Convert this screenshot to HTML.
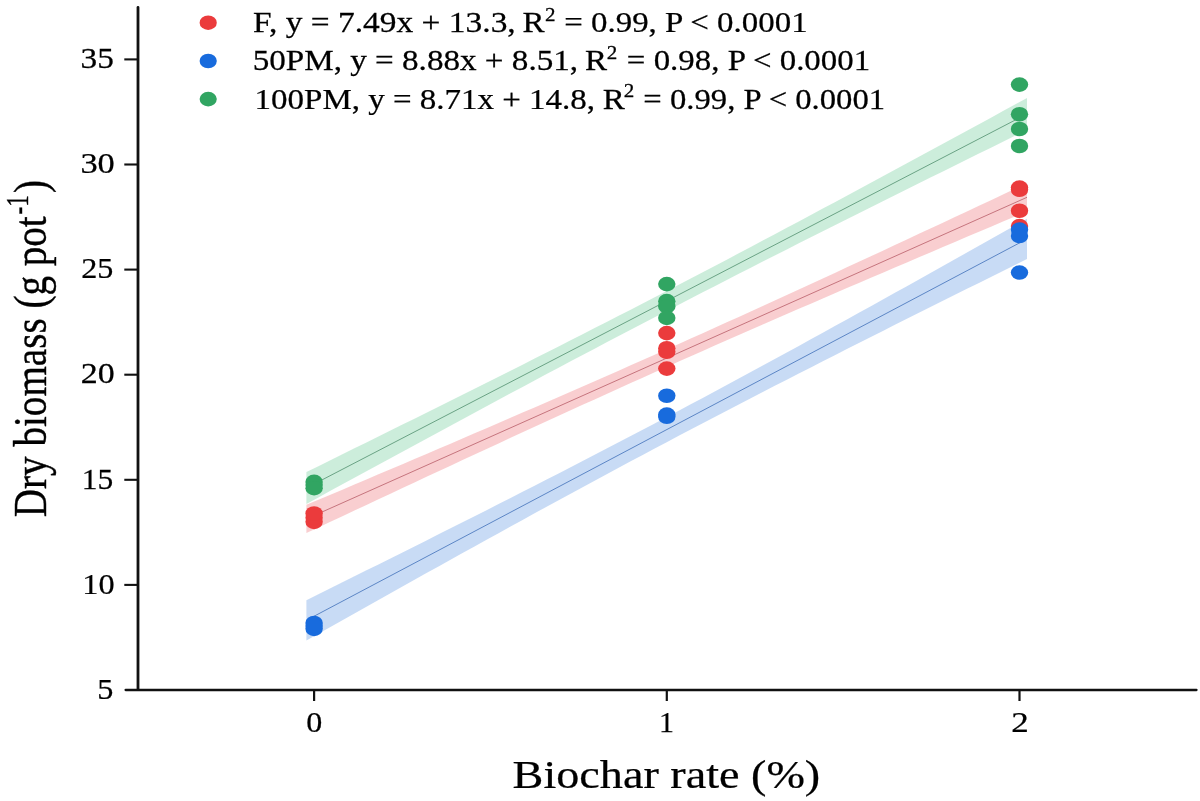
<!DOCTYPE html>
<html><head><meta charset="utf-8"><style>
html,body{margin:0;padding:0;background:#fff;width:1200px;height:801px;overflow:hidden}
svg{display:block;filter:blur(0.35px)}
</style></head><body>
<svg width="1200" height="801" viewBox="0 0 1200 801">
<rect width="1200" height="801" fill="#fff"/>
<path d="M306.40,472.05 L318.41,466.13 L330.42,460.22 L342.43,454.30 L354.44,448.37 L366.45,442.44 L378.46,436.50 L390.47,430.56 L402.48,424.61 L414.49,418.65 L426.50,412.69 L438.51,406.71 L450.52,400.73 L462.53,394.74 L474.54,388.75 L486.55,382.74 L498.56,376.72 L510.57,370.69 L522.58,364.65 L534.59,358.59 L546.60,352.52 L558.61,346.44 L570.62,340.35 L582.63,334.24 L594.64,328.11 L606.65,321.97 L618.66,315.81 L630.67,309.64 L642.68,303.45 L654.69,297.24 L666.70,291.01 L678.71,284.77 L690.72,278.51 L702.73,272.23 L714.74,265.94 L726.75,259.63 L738.76,253.30 L750.77,246.96 L762.78,240.60 L774.79,234.23 L786.80,227.84 L798.81,221.44 L810.82,215.02 L822.83,208.60 L834.84,202.16 L846.85,195.71 L858.86,189.25 L870.87,182.78 L882.88,176.30 L894.89,169.82 L906.90,163.32 L918.91,156.81 L930.92,150.30 L942.93,143.78 L954.94,137.26 L966.95,130.73 L978.96,124.19 L990.97,117.65 L1002.98,111.10 L1014.99,104.55 L1027.00,97.99 L1027.00,129.89 L1014.99,135.80 L1002.98,141.72 L990.97,147.64 L978.96,153.57 L966.95,159.50 L954.94,165.44 L942.93,171.38 L930.92,177.33 L918.91,183.29 L906.90,189.25 L894.89,195.22 L882.88,201.21 L870.87,207.19 L858.86,213.19 L846.85,219.20 L834.84,225.22 L822.83,231.25 L810.82,237.30 L798.81,243.35 L786.80,249.42 L774.79,255.50 L762.78,261.60 L750.77,267.71 L738.76,273.83 L726.75,279.97 L714.74,286.13 L702.73,292.31 L690.72,298.50 L678.71,304.71 L666.70,310.93 L654.69,317.17 L642.68,323.43 L630.67,329.71 L618.66,336.01 L606.65,342.32 L594.64,348.64 L582.63,354.99 L570.62,361.35 L558.61,367.72 L546.60,374.11 L534.59,380.51 L522.58,386.92 L510.57,393.35 L498.56,399.79 L486.55,406.24 L474.54,412.70 L462.53,419.17 L450.52,425.64 L438.51,432.13 L426.50,438.63 L414.49,445.13 L402.48,451.64 L390.47,458.16 L378.46,464.69 L366.45,471.22 L354.44,477.76 L342.43,484.30 L330.42,490.85 L318.41,497.40 L306.40,503.96 Z" fill="rgb(85,195,135)" fill-opacity="0.3"/>
<path d="M306.40,504.87 L318.41,499.79 L330.42,494.71 L342.43,489.63 L354.44,484.54 L366.45,479.44 L378.46,474.35 L390.47,469.24 L402.48,464.13 L414.49,459.02 L426.50,453.89 L438.51,448.76 L450.52,443.63 L462.53,438.48 L474.54,433.33 L486.55,428.17 L498.56,423.00 L510.57,417.82 L522.58,412.62 L534.59,407.42 L546.60,402.21 L558.61,396.98 L570.62,391.74 L582.63,386.49 L594.64,381.23 L606.65,375.95 L618.66,370.66 L630.67,365.35 L642.68,360.03 L654.69,354.69 L666.70,349.33 L678.71,343.97 L690.72,338.58 L702.73,333.18 L714.74,327.77 L726.75,322.34 L738.76,316.90 L750.77,311.44 L762.78,305.97 L774.79,300.49 L786.80,294.99 L798.81,289.48 L810.82,283.96 L822.83,278.43 L834.84,272.89 L846.85,267.34 L858.86,261.78 L870.87,256.21 L882.88,250.63 L894.89,245.05 L906.90,239.45 L918.91,233.85 L930.92,228.25 L942.93,222.64 L954.94,217.02 L966.95,211.39 L978.96,205.77 L990.97,200.13 L1002.98,194.49 L1014.99,188.85 L1027.00,183.21 L1027.00,211.41 L1014.99,216.48 L1002.98,221.56 L990.97,226.65 L978.96,231.74 L966.95,236.83 L954.94,241.93 L942.93,247.03 L930.92,252.14 L918.91,257.26 L906.90,262.38 L894.89,267.51 L882.88,272.65 L870.87,277.79 L858.86,282.94 L846.85,288.11 L834.84,293.28 L822.83,298.46 L810.82,303.65 L798.81,308.85 L786.80,314.07 L774.79,319.29 L762.78,324.53 L750.77,329.78 L738.76,335.05 L726.75,340.33 L714.74,345.62 L702.73,350.93 L690.72,356.25 L678.71,361.59 L666.70,366.94 L654.69,372.31 L642.68,377.70 L630.67,383.10 L618.66,388.51 L606.65,393.94 L594.64,399.38 L582.63,404.84 L570.62,410.31 L558.61,415.79 L546.60,421.29 L534.59,426.80 L522.58,432.32 L510.57,437.85 L498.56,443.39 L486.55,448.94 L474.54,454.50 L462.53,460.07 L450.52,465.65 L438.51,471.23 L426.50,476.83 L414.49,482.43 L402.48,488.03 L390.47,493.65 L378.46,499.26 L366.45,504.89 L354.44,510.52 L342.43,516.15 L330.42,521.79 L318.41,527.43 L306.40,533.08 Z" fill="rgb(235,92,98)" fill-opacity="0.3"/>
<path d="M306.40,600.18 L318.41,594.23 L330.42,588.27 L342.43,582.31 L354.44,576.35 L366.45,570.37 L378.46,564.39 L390.47,558.40 L402.48,552.40 L414.49,546.40 L426.50,540.38 L438.51,534.35 L450.52,528.32 L462.53,522.27 L474.54,516.21 L486.55,510.14 L498.56,504.06 L510.57,497.96 L522.58,491.84 L534.59,485.71 L546.60,479.57 L558.61,473.40 L570.62,467.22 L582.63,461.02 L594.64,454.81 L606.65,448.57 L618.66,442.31 L630.67,436.03 L642.68,429.73 L654.69,423.40 L666.70,417.06 L678.71,410.69 L690.72,404.30 L702.73,397.89 L714.74,391.46 L726.75,385.01 L738.76,378.54 L750.77,372.04 L762.78,365.53 L774.79,359.00 L786.80,352.45 L798.81,345.89 L810.82,339.30 L822.83,332.71 L834.84,326.09 L846.85,319.47 L858.86,312.83 L870.87,306.17 L882.88,299.51 L894.89,292.83 L906.90,286.15 L918.91,279.45 L930.92,272.74 L942.93,266.03 L954.94,259.31 L966.95,252.58 L978.96,245.84 L990.97,239.10 L1002.98,232.35 L1014.99,225.59 L1027.00,218.83 L1027.00,259.04 L1014.99,264.99 L1002.98,270.95 L990.97,276.91 L978.96,282.88 L966.95,288.85 L954.94,294.84 L942.93,300.82 L930.92,306.82 L918.91,312.83 L906.90,318.84 L894.89,324.87 L882.88,330.91 L870.87,336.95 L858.86,343.01 L846.85,349.08 L834.84,355.17 L822.83,361.27 L810.82,367.38 L798.81,373.51 L786.80,379.66 L774.79,385.82 L762.78,392.00 L750.77,398.20 L738.76,404.42 L726.75,410.66 L714.74,416.92 L702.73,423.20 L690.72,429.50 L678.71,435.83 L666.70,442.17 L654.69,448.54 L642.68,454.93 L630.67,461.34 L618.66,467.77 L606.65,474.22 L594.64,480.70 L582.63,487.19 L570.62,493.70 L558.61,500.23 L546.60,506.78 L534.59,513.35 L522.58,519.93 L510.57,526.53 L498.56,533.14 L486.55,539.77 L474.54,546.41 L462.53,553.06 L450.52,559.73 L438.51,566.40 L426.50,573.09 L414.49,579.79 L402.48,586.49 L390.47,593.21 L378.46,599.93 L366.45,606.66 L354.44,613.40 L342.43,620.14 L330.42,626.89 L318.41,633.65 L306.40,640.41 Z" fill="rgb(72,135,222)" fill-opacity="0.3"/>
<line x1="306.40" y1="488.00" x2="1027.00" y2="113.94" stroke="#5f9a7a" stroke-width="0.9"/>
<line x1="306.40" y1="518.97" x2="1027.00" y2="197.31" stroke="#c06a74" stroke-width="0.9"/>
<line x1="306.40" y1="620.29" x2="1027.00" y2="238.94" stroke="#4f7cc0" stroke-width="0.9"/>
<ellipse cx="314.10" cy="481.90" rx="8.7" ry="7.3" fill="#31A562"/>
<ellipse cx="314.10" cy="485.06" rx="8.7" ry="7.3" fill="#31A562"/>
<ellipse cx="314.10" cy="488.21" rx="8.7" ry="7.3" fill="#31A562"/>
<ellipse cx="666.80" cy="284.10" rx="8.7" ry="7.3" fill="#31A562"/>
<ellipse cx="666.80" cy="301.13" rx="8.7" ry="7.3" fill="#31A562"/>
<ellipse cx="666.80" cy="306.38" rx="8.7" ry="7.3" fill="#31A562"/>
<ellipse cx="666.80" cy="317.95" rx="8.7" ry="7.3" fill="#31A562"/>
<ellipse cx="1019.50" cy="84.62" rx="8.7" ry="7.3" fill="#31A562"/>
<ellipse cx="1019.50" cy="114.26" rx="8.7" ry="7.3" fill="#31A562"/>
<ellipse cx="1019.50" cy="128.98" rx="8.7" ry="7.3" fill="#31A562"/>
<ellipse cx="1019.50" cy="146.00" rx="8.7" ry="7.3" fill="#31A562"/>
<ellipse cx="314.10" cy="521.84" rx="8.7" ry="7.3" fill="#EB3B3C"/>
<ellipse cx="314.10" cy="517.64" rx="8.7" ry="7.3" fill="#EB3B3C"/>
<ellipse cx="314.10" cy="513.43" rx="8.7" ry="7.3" fill="#EB3B3C"/>
<ellipse cx="666.80" cy="333.08" rx="8.7" ry="7.3" fill="#EB3B3C"/>
<ellipse cx="666.80" cy="348.21" rx="8.7" ry="7.3" fill="#EB3B3C"/>
<ellipse cx="666.80" cy="351.79" rx="8.7" ry="7.3" fill="#EB3B3C"/>
<ellipse cx="666.80" cy="368.60" rx="8.7" ry="7.3" fill="#EB3B3C"/>
<ellipse cx="1019.50" cy="187.62" rx="8.7" ry="7.3" fill="#EB3B3C"/>
<ellipse cx="1019.50" cy="189.72" rx="8.7" ry="7.3" fill="#EB3B3C"/>
<ellipse cx="1019.50" cy="210.74" rx="8.7" ry="7.3" fill="#EB3B3C"/>
<ellipse cx="1019.50" cy="226.09" rx="8.7" ry="7.3" fill="#EB3B3C"/>
<ellipse cx="314.10" cy="622.95" rx="8.7" ry="7.3" fill="#186BDD"/>
<ellipse cx="314.10" cy="628.83" rx="8.7" ry="7.3" fill="#186BDD"/>
<ellipse cx="314.10" cy="625.89" rx="8.7" ry="7.3" fill="#186BDD"/>
<ellipse cx="666.80" cy="395.72" rx="8.7" ry="7.3" fill="#186BDD"/>
<ellipse cx="666.80" cy="414.64" rx="8.7" ry="7.3" fill="#186BDD"/>
<ellipse cx="666.80" cy="416.74" rx="8.7" ry="7.3" fill="#186BDD"/>
<ellipse cx="1019.50" cy="229.66" rx="8.7" ry="7.3" fill="#186BDD"/>
<ellipse cx="1019.50" cy="235.97" rx="8.7" ry="7.3" fill="#186BDD"/>
<ellipse cx="1019.50" cy="272.54" rx="8.7" ry="7.3" fill="#186BDD"/>
<line x1="138.0" y1="7.4" x2="138.0" y2="689" stroke="#111" stroke-width="2.8" stroke-linecap="round"/>
<line x1="125.6" y1="690" x2="1196.5" y2="690" stroke="#111" stroke-width="2.3" stroke-linecap="round"/>
<line x1="124.3" y1="584.90" x2="138.0" y2="584.90" stroke="#111" stroke-width="2.1"/>
<line x1="124.3" y1="479.80" x2="138.0" y2="479.80" stroke="#111" stroke-width="2.1"/>
<line x1="124.3" y1="374.70" x2="138.0" y2="374.70" stroke="#111" stroke-width="2.1"/>
<line x1="124.3" y1="269.60" x2="138.0" y2="269.60" stroke="#111" stroke-width="2.1"/>
<line x1="124.3" y1="164.50" x2="138.0" y2="164.50" stroke="#111" stroke-width="2.1"/>
<line x1="124.3" y1="59.40" x2="138.0" y2="59.40" stroke="#111" stroke-width="2.1"/>
<line x1="314.10" y1="690" x2="314.10" y2="701" stroke="#111" stroke-width="2.2"/>
<line x1="666.80" y1="690" x2="666.80" y2="701" stroke="#111" stroke-width="2.2"/>
<line x1="1019.50" y1="690" x2="1019.50" y2="701" stroke="#111" stroke-width="2.2"/>
<text transform="translate(80.48,68.00) scale(1.1111,1)" font-family="Liberation Serif" font-size="30" stroke="#000" stroke-width="0.25">35</text>
<text transform="translate(80.40,173.30) scale(1.1481,1)" font-family="Liberation Serif" font-size="30" stroke="#000" stroke-width="0.25">30</text>
<text transform="translate(81.18,278.00) scale(1.0714,1)" font-family="Liberation Serif" font-size="30" stroke="#000" stroke-width="0.25">25</text>
<text transform="translate(80.87,383.30) scale(1.1321,1)" font-family="Liberation Serif" font-size="30" stroke="#000" stroke-width="0.25">20</text>
<text transform="translate(81.86,488.60) scale(1.0481,1)" font-family="Liberation Serif" font-size="30" stroke="#000" stroke-width="0.25">15</text>
<text transform="translate(82.27,593.80) scale(1.0769,1)" font-family="Liberation Serif" font-size="30" stroke="#000" stroke-width="0.25">10</text>
<text transform="translate(97.25,698.90) scale(1.0750,1)" font-family="Liberation Serif" font-size="30" stroke="#000" stroke-width="0.25">5</text>
<text transform="translate(306.33,731.60) scale(1.0692,1)" font-family="Liberation Serif" font-size="30" stroke="#000" stroke-width="0.25">0</text>
<text transform="translate(658.90,731.60) scale(1.0000,1)" font-family="Liberation Serif" font-size="30" stroke="#000" stroke-width="0.25">1</text>
<text transform="translate(1011.23,731.60) scale(1.1667,1)" font-family="Liberation Serif" font-size="30" stroke="#000" stroke-width="0.25">2</text>
<text transform="translate(512.60,788.25) scale(1.1547,1)" font-family="Liberation Serif" font-size="40" stroke="#000" stroke-width="0.25">Biochar rate (%)</text>
<text transform="translate(46.25,517.20) rotate(-90) scale(0.978,1.165)" font-family="Liberation Serif" font-size="40" stroke="#000" stroke-width="0.35" y="0">Dry biomass (g pot</text>
<text transform="translate(46.25,214.40) rotate(-90) scale(0.86,1.165)" font-family="Liberation Serif" font-size="27" stroke="#000" stroke-width="0.35" y="-15.9">-1</text>
<text transform="translate(46.25,193.10) rotate(-90) scale(0.978,1.165)" font-family="Liberation Serif" font-size="40" stroke="#000" stroke-width="0.35" y="0">)</text>
<ellipse cx="208.2" cy="22.7" rx="8.6" ry="7.3" fill="#EB3B3C"/>
<text transform="translate(253.05,31.90) scale(1.1536,1)" font-family="Liberation Serif" font-size="29" stroke="#000" stroke-width="0.25">F, y = 7.49x + 13.3,</text>
<text transform="translate(522.61,31.90) scale(1.1400,1)" font-family="Liberation Serif" font-size="29" stroke="#000" stroke-width="0.25">R</text>
<text transform="translate(545.11,20.70) scale(1.1400,1)" font-family="Liberation Serif" font-size="18.5" stroke="#000" stroke-width="0.25">2</text>
<text transform="translate(564.27,31.90) scale(1.1349,1)" font-family="Liberation Serif" font-size="29" stroke="#000" stroke-width="0.25">= 0.99, P &lt; 0.0001</text>
<ellipse cx="208.2" cy="61.0" rx="8.6" ry="7.3" fill="#186BDD"/>
<text transform="translate(252.72,70.20) scale(1.1423,1)" font-family="Liberation Serif" font-size="29" stroke="#000" stroke-width="0.25">50PM, y = 8.88x + 8.51,</text>
<text transform="translate(585.06,70.20) scale(1.1400,1)" font-family="Liberation Serif" font-size="29" stroke="#000" stroke-width="0.25">R</text>
<text transform="translate(606.86,59.00) scale(1.1400,1)" font-family="Liberation Serif" font-size="18.5" stroke="#000" stroke-width="0.25">2</text>
<text transform="translate(626.87,70.20) scale(1.1344,1)" font-family="Liberation Serif" font-size="29" stroke="#000" stroke-width="0.25">= 0.98, P &lt; 0.0001</text>
<ellipse cx="208.2" cy="99.1" rx="8.6" ry="7.3" fill="#31A562"/>
<text transform="translate(254.59,108.60) scale(1.1378,1)" font-family="Liberation Serif" font-size="29" stroke="#000" stroke-width="0.25">100PM, y = 8.71x + 14.8,</text>
<text transform="translate(602.86,108.60) scale(1.1400,1)" font-family="Liberation Serif" font-size="29" stroke="#000" stroke-width="0.25">R</text>
<text transform="translate(623.86,97.40) scale(1.1400,1)" font-family="Liberation Serif" font-size="18.5" stroke="#000" stroke-width="0.25">2</text>
<text transform="translate(643.37,108.60) scale(1.1274,1)" font-family="Liberation Serif" font-size="29" stroke="#000" stroke-width="0.25">= 0.99, P &lt; 0.0001</text>
</svg>
</body></html>
